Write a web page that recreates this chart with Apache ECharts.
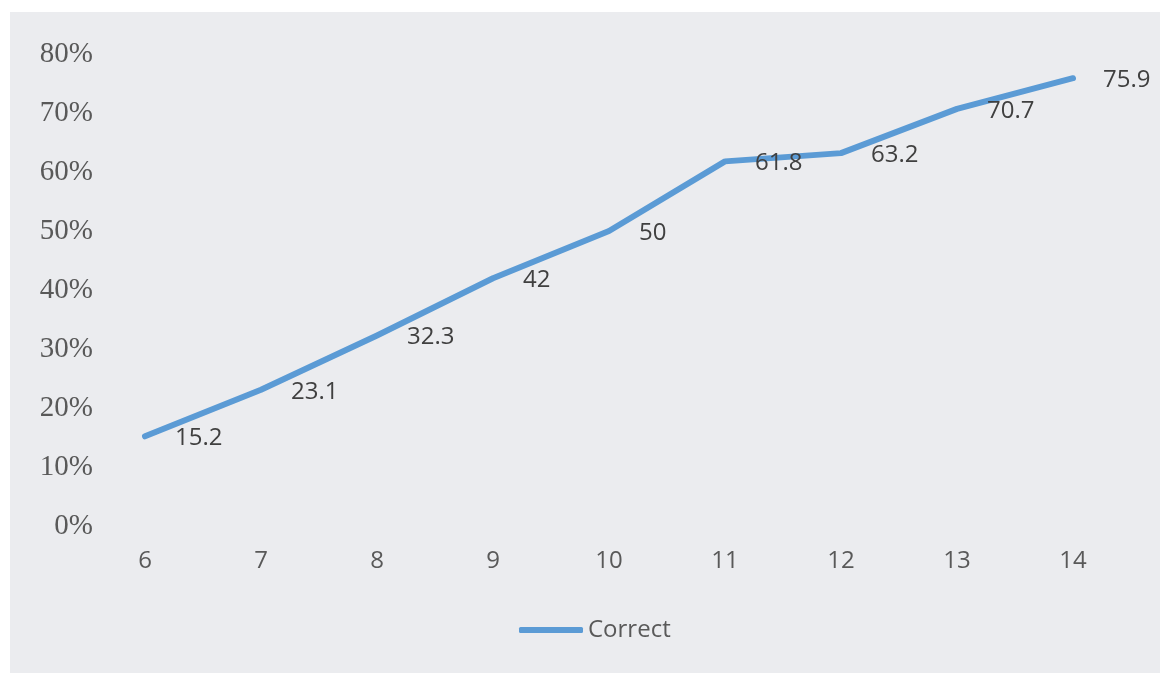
<!DOCTYPE html>
<html><head><meta charset="utf-8">
<script src="https://cdn.jsdelivr.net/npm/echarts@6/dist/echarts.min.js"></script>
<style>
html,body{margin:0;padding:0;background:#fff;}
#c{position:absolute;left:10px;top:12px;width:1150px;height:661px;background:#ebecef;}
</style></head><body>
<div id="c"></div>
<script>
const categories = ['6','7','8','9','10','11','12','13','14'];
const correctValues = [15.2, 23.1, 32.3, 42, 50, 61.8, 63.2, 70.7, 75.9];
const seriesName = 'Correct';

const chart = echarts.init(document.getElementById('c'), null, {renderer:'canvas'});
chart.setOption({
  animation:false,
  backgroundColor:'#ebecef',
  grid:{left:77, right:29, top:42, bottom:147, containLabel:false},
  legend:{
    data:[{name:seriesName, icon:'roundRect'}], left:504, top:601, itemWidth:64, itemHeight:6, itemGap:5,
    textStyle:{fontFamily:'Open Sans', fontSize:24, color:'#595959'}
  },
  xAxis:{
    type:'category', data:categories, boundaryGap:true,
    axisLine:{show:false}, axisTick:{show:false}, splitLine:{show:false},
    axisLabel:{fontFamily:'Open Sans', fontSize:24, color:'#595959', margin:23}
  },
  yAxis:{
    type:'value', min:0, max:80, interval:10,
    axisLine:{show:false}, axisTick:{show:false}, splitLine:{show:false},
    axisLabel:{formatter:'{value}%', fontFamily:'Liberation Serif', fontSize:29, color:'#595959', margin:-6, verticalAlign:'middle', lineHeight:29, padding:[8,0,0,0]}
  },
  series:[{
    name:seriesName, type:'line', data:correctValues, showSymbol:true, symbol:'circle', symbolSize:0,
    lineStyle:{color:'#5b9bd5', width:6, cap:'round', join:'round'},
    itemStyle:{color:'#5b9bd5'},
    label:{show:true, position:'right', distance:30, fontFamily:'Open Sans', fontSize:24, color:'#404040', offset:[0,2]}
  }]
});
</script>
</body></html>
